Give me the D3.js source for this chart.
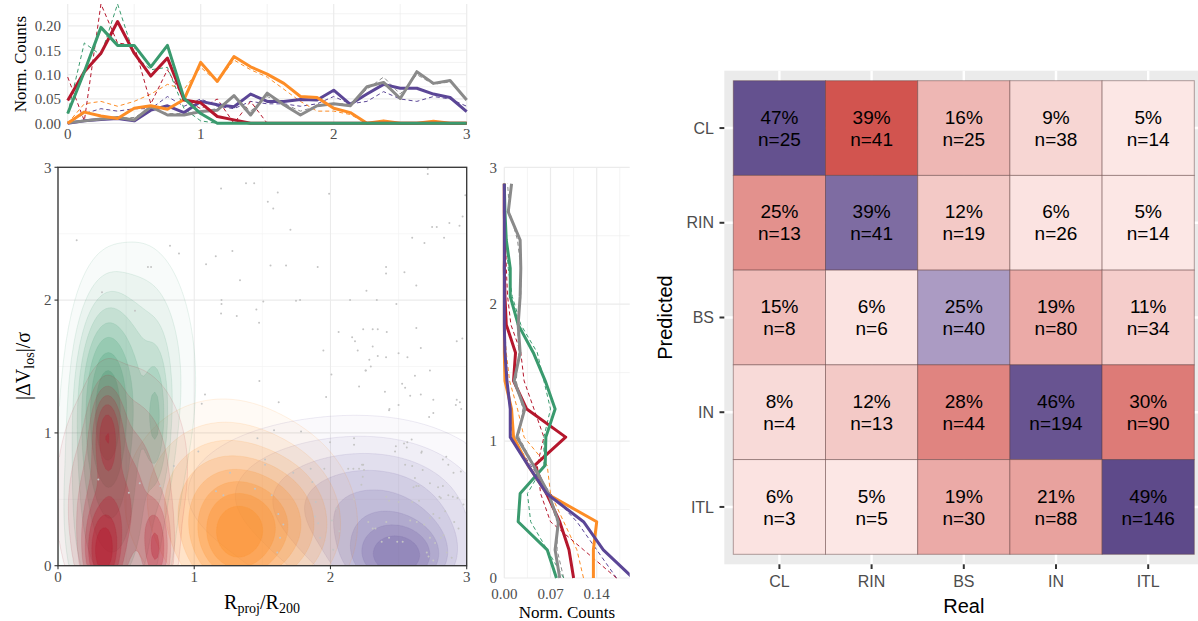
<!DOCTYPE html>
<html><head><meta charset="utf-8">
<script src="https://cdn.jsdelivr.net/npm/d3@7"></script>
<style>body{margin:0;background:#fff}svg{display:block}</style>
</head><body>
<svg id="c" width="1198" height="621"></svg>
<script>
// ---------------- DATA ----------------
const groups = ["CL","RIN","BS","IN","ITL"];
const groupColors = {CL:"#b5172d", RIN:"#3a9a6e", BS:"#fd8d26", IN:"#5b4696", ITL:"#8a8a8a"};

// top marginal histogram (R_proj/R200), vertices every 0.125
const rBreaks = [0,0.125,0.25,0.375,0.5,0.625,0.75,0.875,1,1.125,1.25,1.375,1.5,1.625,1.75,1.875,2,2.125,2.25,2.375,2.5,2.625,2.75,2.875,3];
const topSolidCL  = [0.047,0.106,0.144,0.209,0.144,0.097,0.134,0.048,0.042,0.014,0.007,0,0,0,0,0,0,0,0,0,0,0,0,0,0];
const topSolidRIN = [0.020,0.106,0.197,0.160,0.160,0.116,0.160,0.051,0.020,0,0,0,0,0,0,0,0,0,0,0,0,0,0,0,0];
const topSolidBS  = [0,0.023,0.015,0.010,0.031,0.036,0.029,0.049,0.125,0.086,0.137,0.116,0.101,0.082,0.055,0.053,0.031,0.022,0,0.005,0,0,0.004,0,0];
const topSolidIN  = [0,0.005,0.008,0.010,0.005,0.027,0.036,0.022,0.045,0.038,0.034,0.060,0.045,0.045,0.049,0.048,0.068,0.039,0.060,0.080,0.072,0.072,0.060,0.053,0.024];
const topSolidITL = [0.001,0.005,0.009,0.012,0.007,0.034,0.017,0.017,0.024,0.027,0.057,0.017,0.062,0.038,0.017,0.036,0.040,0.036,0.075,0.084,0.051,0.106,0.082,0.088,0.048];
const topDashCL   = [0.095,0.005,0.245,0.165,0.160,0.040,0.110,0.050,0.030,0.050,0,0.045,0,0,0,0,0,0,0,0,0,0,0,0,0];
const topDashRIN  = [0.020,0.165,0.140,0.245,0.140,0.110,0.115,0.030,0.005,0,0,0,0,0,0,0,0,0,0,0,0,0,0,0,0];
const topDashBS   = [0,0.040,0.045,0.035,0.045,0.060,0.080,0.070,0.115,0.085,0.130,0.110,0.095,0.070,0.045,0.025,0.025,0.018,0,0.002,0,0,0,0,0];
const topDashIN   = [0,0.020,0.030,0.025,0.030,0.030,0.055,0.035,0.050,0.035,0.030,0.045,0.040,0.040,0.035,0.040,0.055,0.040,0.045,0.065,0.050,0.045,0.055,0.050,0.035];
const topDashITL  = [0,0.005,0.010,0.010,0.012,0.030,0.020,0.020,0.025,0.030,0.055,0.025,0.055,0.040,0.025,0.035,0.040,0.040,0.070,0.095,0.060,0.100,0.080,0.085,0.050];

// right marginal histogram (|dV|/sigma)
const vBreaks = [0,0.206,0.411,0.617,0.823,1.029,1.234,1.44,1.646,1.851,2.057,2.263,2.469,2.674,2.88];
const rightSolidCL  = [0.105,0.098,0.084,0.064,0.046,0.093,0.034,0.014,0.017,0.003,0.001,0,0.001,0,0];
const rightSolidRIN = [0.079,0.065,0.021,0.024,0.062,0.063,0.077,0.062,0.044,0.021,0.009,0.009,0.003,0.001,0];
const rightSolidBS  = [0.135,0.135,0.140,0.064,0.036,0.014,0.011,0.001,0,0,0,0,0,0,0];
const rightSolidIN  = [0.195,0.150,0.120,0.064,0.036,0.009,0.009,0.004,0.001,0,0,0,0,0,0];
const rightSolidITL = [0.084,0.077,0.082,0.067,0.044,0.019,0.031,0.015,0.024,0.021,0.024,0.025,0.024,0.006,0.011];
const rightDashCL   = [0.170,0.120,0.070,0.055,0.050,0.060,0.045,0.030,0.025,0.010,0.005,0.003,0.002,0,0];
const rightDashRIN  = [0.090,0.065,0.040,0.035,0.060,0.060,0.070,0.060,0.050,0.025,0.012,0.006,0.003,0.001,0];
const rightDashBS   = [0.120,0.110,0.090,0.070,0.065,0.030,0.020,0.008,0.003,0,0,0,0,0,0];
const rightDashIN   = [0.170,0.140,0.110,0.070,0.040,0.012,0.010,0.005,0.002,0,0,0,0,0,0];
const rightDashITL  = [0.090,0.080,0.080,0.065,0.045,0.022,0.028,0.018,0.022,0.020,0.025,0.025,0.020,0.008,0.005];

// density blobs: [x centre, y centre, x spread, y spread, weight]
const blobsIN  = [[2.5,0.05,0.22,0.17,1.0],[2.4,0.3,0.42,0.33,0.5],[1.9,0.55,0.55,0.3,0.18]];
const blobsBS  = [[1.3,0.2,0.2,0.25,1.0],[1.2,0.5,0.33,0.35,0.45],[1.65,0.3,0.25,0.3,0.45]];
const blobsRIN = [[0.35,1.2,0.12,0.42,1.0],[0.72,1.1,0.055,0.3,0.4],[0.4,0.35,0.2,0.5,0.45],[0.6,1.4,0.2,0.5,0.3]];
const blobsCL  = [[0.33,0.08,0.08,0.2,1.0],[0.36,1.0,0.065,0.2,0.65],[0.72,0.12,0.065,0.22,0.6],[0.4,0.35,0.17,0.33,0.45],[0.5,0.75,0.25,0.42,0.2]];

// scattered points (R, |dV|/sigma)
const ptsR = [0.137,0.822,0.888,0.66,0.683,0.323,0.565,1.197,1.38,1.44,1.613,1.54,1.58,1.99,1.706,1.28,1.158,1.087,1.56,1.674,1.906,1.336,1.2,1.2,1.197,1.312,1.456,1.476,1.507,1.747,1.777,1.478,2.714,2.714,2.99,2.97,2.947,2.873,2.746,2.78,2.834,2.6,2.69,2.408,2.408,2.543,2.63,2.144,2.34,2.264,2.484,2.06,2.159,2.18,2.24,2.31,2.347,2.413,2.2,2.31,2.285,2.296,2.26,2.347,2.408,2.5,2.565,2.63,2.663,2.927,2.968,1.948,2.007,2.62,2.73,2.526,2.548,2.663,2.4,2.755,2.927,2.95,1.968,1.62,1.079,1.055,1.586,1.784,2.173,2.173,2.48,2.54,2.564,2.596,2.433,2.724,2.755,1.464,1.03,1.997,1.855,1.955,2.13,2.24,2.67,2.677,2.63,1.52,1.727,2.257,2.21,2.43,2.50,2.585,2.92,2.96,1.52,1.867,2.168,2.21,2.232,2.246,2.237,2.227,2.474,2.56,2.667,2.548,2.6,2.825,2.85,2.865,2.957,2.903,2.62,2.61,2.647,2.73,2.79,2.825,2.41,2.43,2.5,2.6,2.65,2.173,1.892,2.8,2.81,2.865,2.898,2.932,2.976,2.755,2.8,2.842,2.908,2.94,2.04,2.065,2.01,2.02,2.31,2.33,2.41,2.43,2.49,2.53,2.376,2.278,2.585,2.634,2.688,2.73,2.73,2.768,2.81,2.83,2.854,2.89,2.707,2.72,2.755,1.924,1.91,1.887,1.617,1.654,1.63,1.61,1.16,1.214,1.446,1.263,1.569,0.296,0.6,0.52,0.75,0.85];
const ptsV = [2.45,2.41,2.35,2.25,2.25,2.06,1.92,2.84,2.88,2.88,2.81,2.74,2.69,2.80,2.53,2.37,2.33,2.27,2.26,2.26,2.25,2.15,2.0,1.97,1.9,1.88,1.93,1.83,1.99,1.995,2.0,1.39,2.99,2.95,2.79,2.63,2.56,2.58,2.55,2.55,2.47,2.47,2.43,2.25,2.2,2.21,2.11,2.0,2.0,2.07,1.97,1.76,1.72,1.69,1.78,1.78,1.78,1.76,1.62,1.65,1.55,1.5,1.47,1.58,1.57,1.6,1.57,1.79,1.64,1.69,1.71,1.62,1.44,1.43,1.47,1.37,1.34,1.29,1.31,1.25,1.25,1.23,1.27,1.23,1.29,1.22,1.02,1.01,0.96,0.91,0.9,0.92,0.93,0.95,1.18,1.12,1.15,0.96,0.86,0.93,0.73,0.73,0.73,0.76,0.86,0.72,0.6,0.8,0.7,1.47,1.35,1.17,1.21,1.28,1.21,1.18,0.76,0.63,0.73,0.73,0.76,0.72,0.67,0.61,0.86,0.89,0.85,0.76,0.75,0.80,0.82,0.76,0.71,0.70,0.66,0.59,0.60,0.62,0.59,0.60,0.52,0.49,0.48,0.48,0.49,0.50,0.48,0.52,0.51,0.53,0.52,0.51,0.46,0.39,0.36,0.41,0.33,0.28,0.43,0.26,0.34,0.12,0.28,0.28,0.33,0.21,0.18,0.18,0.18,0.33,0.34,0.33,0.31,0.36,0.21,0.17,0.21,0.23,0.10,0.06,0.10,0.07,0.04,0.21,0.32,0.37,0.39,0.31,0.21,0.10,0.56,0.53,0.58,0.70,0.53,0.65,0.62,0.55,0.60,0.75];

// tick labels
const topYTicks = [0,0.05,0.10,0.15,0.20];
const axisTicks = [0,1,2,3];
const rightXTicks = [0,0.07,0.14];

// confusion matrix
const realCats = ["CL","RIN","BS","IN","ITL"];
const predCats = ["CL","RIN","BS","IN","ITL"];
const pctCL  = [47,39,16,9,5];
const pctRIN = [25,39,12,6,5];
const pctBS  = [15,6,25,19,11];
const pctIN  = [8,12,28,46,30];
const pctITL = [6,5,19,21,49];
const nCL  = [25,41,25,38,14];
const nRIN = [13,41,19,26,14];
const nBS  = [8,6,40,80,34];
const nIN  = [4,13,44,194,90];
const nITL = [3,5,30,88,146];

// ---------------- DRAW ----------------
const svg = d3.select("#c");
const SERIF = "'Liberation Serif','Times New Roman',serif";
const SANS = "'Liberation Sans',Arial,sans-serif";
const GRID = "#ebebeb";

// ===== top histogram =====
const xT = d3.scaleLinear([0,3],[67.7,466.7]);
const yT = d3.scaleLinear([0,0.245],[123.3,4]);
const gT = svg.append("g");
d3.range(0.025,0.24,0.05).forEach(v=>gT.append("line").attr("x1",xT(0)).attr("x2",xT(3)).attr("y1",yT(v)).attr("y2",yT(v)).attr("stroke",GRID).attr("stroke-width",0.6));
[0.5,1.5,2.5].forEach(v=>gT.append("line").attr("x1",xT(v)).attr("x2",xT(v)).attr("y1",yT(0)).attr("y2",yT(0.245)).attr("stroke",GRID).attr("stroke-width",0.6));
topYTicks.forEach(v=>gT.append("line").attr("x1",xT(0)).attr("x2",xT(3)).attr("y1",yT(v)).attr("y2",yT(v)).attr("stroke",GRID).attr("stroke-width",1.2));
axisTicks.forEach(v=>gT.append("line").attr("x1",xT(v)).attr("x2",xT(v)).attr("y1",yT(0)).attr("y2",yT(0.245)).attr("stroke",GRID).attr("stroke-width",1.2));
topYTicks.forEach(v=>gT.append("text").attr("x",61).attr("y",yT(v)).attr("dy","0.35em").attr("text-anchor","end").attr("font-family",SERIF).attr("font-size",15).attr("fill","#4d4d4d").text(d3.format(".2f")(v)));
axisTicks.forEach(v=>gT.append("text").attr("x",xT(v)).attr("y",133.5).attr("dy","0.35em").attr("text-anchor","middle").attr("font-family",SERIF).attr("font-size",15).attr("fill","#4d4d4d").text(v));
gT.append("text").attr("transform","translate(20,64) rotate(-90)").attr("text-anchor","middle").attr("dy","0.35em").attr("font-family",SERIF).attr("font-size",17).attr("fill","#000").text("Norm. Counts");
svg.append("clipPath").attr("id","clipT").append("rect").attr("x",xT(0)-2).attr("y",0).attr("width",xT(3)-xT(0)+4).attr("height",yT(0)+2);
const lineT = d3.line().x((d,i)=>xT(rBreaks[i])).y(d=>yT(d));
const gTL = gT.append("g").attr("clip-path","url(#clipT)");
const topDash = {CL:topDashCL,RIN:topDashRIN,BS:topDashBS,IN:topDashIN,ITL:topDashITL};
const topSolid = {CL:topSolidCL,RIN:topSolidRIN,BS:topSolidBS,IN:topSolidIN,ITL:topSolidITL};
["IN","ITL","BS","CL","RIN"].forEach(g=>gTL.append("path").attr("d",lineT(topDash[g])).attr("fill","none").attr("stroke",groupColors[g]).attr("stroke-width",1).attr("stroke-dasharray","4,3"));
["IN","ITL","BS","CL","RIN"].forEach(g=>gTL.append("path").attr("d",lineT(topSolid[g])).attr("fill","none").attr("stroke",groupColors[g]).attr("stroke-width",3).attr("stroke-linejoin","round"));

// ===== main density panel =====
const xM = d3.scaleLinear([0,3],[58,466.7]);
const yM = d3.scaleLinear([0,3],[565.7,167.3]);
const gM = svg.append("g");
[0.5,1.5,2.5].forEach(v=>{
  gM.append("line").attr("x1",xM(v)).attr("x2",xM(v)).attr("y1",yM(0)).attr("y2",yM(3)).attr("stroke","#f2f2f2").attr("stroke-width",0.6);
  gM.append("line").attr("x1",xM(0)).attr("x2",xM(3)).attr("y1",yM(v)).attr("y2",yM(v)).attr("stroke","#f2f2f2").attr("stroke-width",0.6);
});
axisTicks.forEach(v=>{
  gM.append("line").attr("x1",xM(v)).attr("x2",xM(v)).attr("y1",yM(0)).attr("y2",yM(3)).attr("stroke",GRID).attr("stroke-width",1.1);
  gM.append("line").attr("x1",xM(0)).attr("x2",xM(3)).attr("y1",yM(v)).attr("y2",yM(v)).attr("stroke",GRID).attr("stroke-width",1.1);
});
svg.append("clipPath").attr("id","clipM").append("rect").attr("x",xM(0)).attr("y",yM(3)).attr("width",xM(3)-xM(0)).attr("height",yM(0)-yM(3));
const gD = gM.append("g").attr("clip-path","url(#clipM)");
const NX=150, NY=150;
function densityGrid(blobs){
  const vals = new Float64Array(NX*NY);
  for(let j=0;j<NY;j++){ const y=(j+0.5)*3/NY;
    for(let i=0;i<NX;i++){ const x=(i+0.5)*3/NX; let s=0;
      blobs.forEach(b=>{ s+=b[4]*Math.exp(-((x-b[0])**2/(2*b[2]*b[2])+(y-b[1])**2/(2*b[3]*b[3]))); });
      vals[j*NX+i]=s; } }
  return vals;
}
const proj = d3.geoTransform({point:function(x,y){this.stream.point(xM(x*3/NX), yM(y*3/NY));}});
const pathM = d3.geoPath(proj);
const levels = [0.03,0.08,0.15,0.24,0.35,0.48,0.63,0.8];
function drawDensity(blobs,color,alphaScale){
  const vals = densityGrid(blobs);
  const mx = d3.max(vals);
  const cs = d3.contours().size([NX,NY]).thresholds(levels.map(l=>l*mx))(vals);
  cs.forEach((c,i)=>{
    gD.append("path").attr("d",pathM(c)).attr("fill",color).attr("fill-opacity",(0.05+0.045*i)*alphaScale)
      .attr("stroke",color).attr("stroke-opacity",0.2).attr("stroke-width",0.6);
  });
}
drawDensity(blobsIN,"#6f5fa3",0.72);
drawDensity(blobsBS,"#fd8d26",0.95);
drawDensity(blobsRIN,"#3a9a6e",0.7);
drawDensity(blobsCL,"#b5172d",1.05);
ptsR.forEach((r,i)=>gD.append("circle").attr("cx",xM(r)).attr("cy",yM(ptsV[i])).attr("r",1).attr("fill","#c4c4c4"));
gM.append("rect").attr("x",xM(0)).attr("y",yM(3)).attr("width",xM(3)-xM(0)).attr("height",yM(0)-yM(3)).attr("fill","none").attr("stroke","#333").attr("stroke-width",1.3);
axisTicks.forEach(v=>{
  gM.append("line").attr("x1",xM(v)).attr("x2",xM(v)).attr("y1",yM(0)).attr("y2",yM(0)+3.5).attr("stroke","#333").attr("stroke-width",1.1);
  gM.append("line").attr("x1",xM(0)-3.5).attr("x2",xM(0)).attr("y1",yM(v)).attr("y2",yM(v)).attr("stroke","#333").attr("stroke-width",1.1);
  gM.append("text").attr("x",xM(v)).attr("y",577).attr("dy","0.35em").attr("text-anchor","middle").attr("font-family",SERIF).attr("font-size",15).attr("fill","#4d4d4d").text(v);
  gM.append("text").attr("x",51.5).attr("y",yM(v)).attr("dy","0.35em").attr("text-anchor","end").attr("font-family",SERIF).attr("font-size",15).attr("fill","#4d4d4d").text(v);
});
const xt = gM.append("text").attr("x",262).attr("y",609).attr("text-anchor","middle").attr("font-family",SERIF).attr("font-size",20).attr("fill","#000");
xt.append("tspan").text("R");
xt.append("tspan").attr("font-size",14).attr("dy",4).text("proj");
xt.append("tspan").attr("dy",-4).text("/R");
xt.append("tspan").attr("font-size",14).attr("dy",4).text("200");
const yt = gM.append("text").attr("transform","translate(30,366) rotate(-90)").attr("text-anchor","middle").attr("font-family",SERIF).attr("font-size",20).attr("fill","#000");
yt.append("tspan").text("|\u0394V");
yt.append("tspan").attr("font-size",14).attr("dy",4).text("los");
yt.append("tspan").attr("dy",-4).text("|/\u03c3");

// ===== right histogram =====
const xR = d3.scaleLinear([0,0.19],[504.3,629.7]);
const yR = d3.scaleLinear([0,3],[578,167.3]);
const gR = svg.append("g");
[0.035,0.105,0.175].forEach(v=>gR.append("line").attr("x1",xR(v)).attr("x2",xR(v)).attr("y1",yR(0)).attr("y2",yR(3)).attr("stroke",GRID).attr("stroke-width",0.6));
[0.5,1.5,2.5].forEach(v=>gR.append("line").attr("x1",xR(0)).attr("x2",xR(0.19)).attr("y1",yR(v)).attr("y2",yR(v)).attr("stroke",GRID).attr("stroke-width",0.6));
rightXTicks.forEach(v=>gR.append("line").attr("x1",xR(v)).attr("x2",xR(v)).attr("y1",yR(0)).attr("y2",yR(3)).attr("stroke",GRID).attr("stroke-width",1.2));
axisTicks.forEach(v=>gR.append("line").attr("x1",xR(0)).attr("x2",xR(0.19)).attr("y1",yR(v)).attr("y2",yR(v)).attr("stroke",GRID).attr("stroke-width",1.2));
rightXTicks.forEach(v=>gR.append("text").attr("x",xR(v)).attr("y",593.5).attr("dy","0.35em").attr("text-anchor","middle").attr("font-family",SERIF).attr("font-size",15).attr("fill","#4d4d4d").text(d3.format(".2f")(v)));
axisTicks.forEach(v=>gR.append("text").attr("x",497).attr("y",yR(v)).attr("dy","0.35em").attr("text-anchor","end").attr("font-family",SERIF).attr("font-size",15).attr("fill","#4d4d4d").text(v));
gR.append("text").attr("x",567).attr("y",612).attr("dy","0.35em").attr("text-anchor","middle").attr("font-family",SERIF).attr("font-size",17).attr("fill","#000").text("Norm. Counts");
svg.append("clipPath").attr("id","clipR").append("rect").attr("x",xR(0)-2).attr("y",yR(3)).attr("width",xR(0.19)-xR(0)+2).attr("height",yR(0)-yR(3)+2);
const lineR = d3.line().x(d=>xR(d)).y((d,i)=>yR(vBreaks[i]));
const gRL = gR.append("g").attr("clip-path","url(#clipR)");
const rDash = {CL:rightDashCL,RIN:rightDashRIN,BS:rightDashBS,IN:rightDashIN,ITL:rightDashITL};
const rSolid = {CL:rightSolidCL,RIN:rightSolidRIN,BS:rightSolidBS,IN:rightSolidIN,ITL:rightSolidITL};
["IN","ITL","BS","CL","RIN"].forEach(g=>gRL.append("path").attr("d",lineR(rDash[g])).attr("fill","none").attr("stroke",groupColors[g]).attr("stroke-width",1).attr("stroke-dasharray","4,3"));
["BS","CL","RIN","ITL","IN"].forEach(g=>gRL.append("path").attr("d",lineR(rSolid[g])).attr("fill","none").attr("stroke",groupColors[g]).attr("stroke-width",3).attr("stroke-linejoin","round"));

// ===== confusion matrix =====
const pct = [pctCL,pctRIN,pctBS,pctIN,pctITL];
const cnt = [nCL,nRIN,nBS,nIN,nITL];
const xC = d3.scaleBand(realCats,[733.3,1194.3]);
const yC = d3.scaleBand(predCats,[80.7,554.3]);
const offCol = d3.scaleLinear([5,39],["#fce7e5","#d2544f"]).clamp(true);
const diagCol = d3.scaleLinear([25,49],["#ab9bc3","#5e4a8a"]).clamp(true);
const gC = svg.append("g");
gC.append("rect").attr("x",724.3).attr("y",70.7).attr("width",1204-724.3).attr("height",564.3-70.7).attr("fill","#ebebeb");
realCats.forEach(c=>gC.append("line").attr("x1",xC(c)+xC.bandwidth()/2).attr("x2",xC(c)+xC.bandwidth()/2).attr("y1",70.7).attr("y2",564.3).attr("stroke","#fff").attr("stroke-width",2.4));
predCats.forEach(c=>gC.append("line").attr("x1",724.3).attr("x2",1204).attr("y1",yC(c)+yC.bandwidth()/2).attr("y2",yC(c)+yC.bandwidth()/2).attr("stroke","#fff").attr("stroke-width",2.4));
predCats.forEach((p,r)=>realCats.forEach((q,c)=>{
  const v = pct[r][c];
  gC.append("rect").attr("x",xC(q)).attr("y",yC(p)).attr("width",xC.bandwidth()).attr("height",yC.bandwidth())
    .attr("fill", r===c ? diagCol(v) : offCol(v)).attr("stroke","rgba(90,55,55,0.45)").attr("stroke-width",1);
}));
predCats.forEach((p,r)=>realCats.forEach((q,c)=>{
  const cx = xC(q)+xC.bandwidth()/2, cy = yC(p)+yC.bandwidth()/2;
  const t = gC.append("text").attr("text-anchor","middle").attr("font-family",SANS).attr("font-size",19).attr("fill","#000");
  t.append("tspan").attr("x",cx).attr("y",cy-11).attr("dy","0.35em").text(pct[r][c]+"%");
  t.append("tspan").attr("x",cx).attr("y",cy+11).attr("dy","0.35em").text("n="+cnt[r][c]);
}));
realCats.forEach(c=>{
  const x = xC(c)+xC.bandwidth()/2;
  gC.append("line").attr("x1",x).attr("x2",x).attr("y1",564.3).attr("y2",569).attr("stroke","#333").attr("stroke-width",2);
  gC.append("text").attr("x",x).attr("y",581).attr("dy","0.35em").attr("text-anchor","middle").attr("font-family",SANS).attr("font-size",16).attr("fill","#4d4d4d").text(c);
});
predCats.forEach(c=>{
  const y = yC(c)+yC.bandwidth()/2;
  gC.append("line").attr("x1",719.5).attr("x2",724.3).attr("y1",y).attr("y2",y).attr("stroke","#333").attr("stroke-width",2);
  gC.append("text").attr("x",714).attr("y",y).attr("dy","0.35em").attr("text-anchor","end").attr("font-family",SANS).attr("font-size",16).attr("fill","#4d4d4d").text(c);
});
gC.append("text").attr("x",963.8).attr("y",606).attr("dy","0.35em").attr("text-anchor","middle").attr("font-family",SANS).attr("font-size",20).attr("fill","#000").text("Real");
gC.append("text").attr("transform","translate(665,317.5) rotate(-90)").attr("dy","0.35em").attr("text-anchor","middle").attr("font-family",SANS).attr("font-size",20).attr("fill","#000").text("Predicted");
</script>
</body></html>
